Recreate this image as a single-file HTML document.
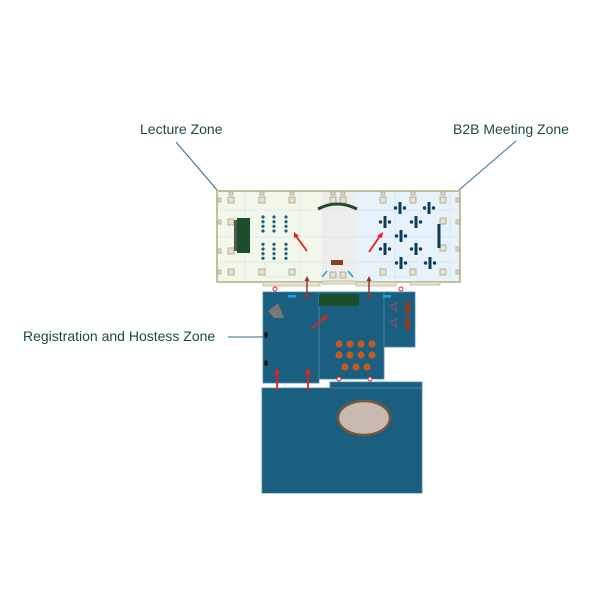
<!DOCTYPE html>
<html><head><meta charset="utf-8"><style>
html,body{margin:0;padding:0;background:#fff;}
svg{display:block;}
text{font-family:"Liberation Sans",sans-serif;}
</style></head><body>
<svg width="600" height="600" viewBox="0 0 600 600" xmlns="http://www.w3.org/2000/svg">
<rect width="600" height="600" fill="#fff"/>

<!-- labels -->
<text x="140" y="134" font-size="14" fill="#1f4b3c">Lecture Zone</text>
<text x="453" y="134" font-size="14" fill="#1f4b3c">B2B Meeting Zone</text>
<text x="23" y="341" font-size="14" fill="#1f4b3c">Registration and Hostess Zone</text>
<line x1="176" y1="142" x2="217" y2="190" stroke="#2f6f8f" stroke-width="1"/>
<line x1="516" y1="141" x2="459" y2="190" stroke="#2f6f8f" stroke-width="1"/>
<line x1="228" y1="337" x2="264" y2="337" stroke="#2f6f8f" stroke-width="1"/>

<!-- top floor plan -->
<rect x="217" y="191" width="105" height="91" fill="#f2f7ea"/>
<rect x="322" y="191" width="34" height="91" fill="#ededed"/>
<rect x="356" y="191" width="104" height="91" fill="#e7f2fb"/>
<!-- faint dimension lines -->
<g stroke="#cfe0ec" stroke-width="0.5" fill="none">
<line x1="217" y1="210" x2="460" y2="210"/>
<line x1="217" y1="237" x2="460" y2="237"/>
<line x1="217" y1="262" x2="460" y2="262"/>
<line x1="245" y1="191" x2="245" y2="282"/>
<line x1="300" y1="191" x2="300" y2="282"/>
<line x1="395" y1="191" x2="395" y2="282"/>
<line x1="450" y1="191" x2="450" y2="282"/>
<rect x="265" y="262" width="30" height="15"/>
<rect x="380" y="262" width="30" height="15"/>
</g>
<!-- outline -->
<rect x="217" y="191" width="243" height="91" fill="none" stroke="#c3bf9c" stroke-width="2"/>
<!-- bottom bumps -->
<g fill="#e6e2cc" stroke="#bfbb98" stroke-width="0.8">
<rect x="263" y="282" width="57" height="4"/>
<rect x="356" y="282" width="40" height="4"/>
<rect x="410" y="282" width="30" height="3"/>
<rect x="322" y="281" width="34" height="3"/>
</g>
<!-- pillars -->
<g fill="#e4e0cc" stroke="#a9a589" stroke-width="0.8">
<rect x="228" y="197" width="6" height="6"/><rect x="259" y="197" width="6" height="6"/><rect x="289" y="197" width="6" height="6"/>
<rect x="330" y="197" width="6" height="6"/><rect x="340" y="197" width="6" height="6"/>
<rect x="380" y="197" width="6" height="6"/><rect x="410" y="197" width="6" height="6"/><rect x="440" y="197" width="6" height="6"/>
<rect x="228" y="219" width="6" height="6"/><rect x="228" y="248" width="6" height="6"/>
<rect x="440" y="218" width="6" height="6"/><rect x="440" y="245" width="6" height="6"/>
<rect x="228" y="269" width="6" height="6"/><rect x="259" y="269" width="6" height="6"/><rect x="289" y="269" width="6" height="6"/>
<rect x="330" y="272" width="6" height="6"/><rect x="340" y="272" width="6" height="6"/>
<rect x="380" y="269" width="6" height="6"/><rect x="410" y="269" width="6" height="6"/><rect x="440" y="269" width="6" height="6"/>
<!-- edge markers -->
<rect x="218" y="198" width="3" height="4"/><rect x="218" y="220" width="3" height="4"/><rect x="218" y="249" width="3" height="4"/><rect x="218" y="270" width="3" height="4"/>
<rect x="456" y="198" width="3" height="4"/><rect x="456" y="220" width="3" height="4"/><rect x="456" y="247" width="3" height="4"/><rect x="456" y="270" width="3" height="4"/>
<rect x="229" y="192" width="4" height="3"/><rect x="260" y="192" width="4" height="3"/><rect x="290" y="192" width="4" height="3"/><rect x="331" y="192" width="4" height="3"/><rect x="341" y="192" width="4" height="3"/><rect x="381" y="192" width="4" height="3"/><rect x="411" y="192" width="4" height="3"/><rect x="441" y="192" width="4" height="3"/>
</g>

<!-- lecture zone contents -->
<rect x="234" y="220" width="3" height="31" fill="#555"/>
<rect x="237" y="218" width="13" height="35" fill="#1e4d2b"/>
<g fill="#1a5f80">
<circle cx="263" cy="217" r="1.6"/><circle cx="263" cy="221.7" r="1.6"/><circle cx="263" cy="226.3" r="1.6"/><circle cx="263" cy="231" r="1.6"/>
<circle cx="274" cy="217" r="1.6"/><circle cx="274" cy="221.7" r="1.6"/><circle cx="274" cy="226.3" r="1.6"/><circle cx="274" cy="231" r="1.6"/>
<circle cx="286" cy="217" r="1.6"/><circle cx="286" cy="221.7" r="1.6"/><circle cx="286" cy="226.3" r="1.6"/><circle cx="286" cy="231" r="1.6"/>
<circle cx="263" cy="244.3" r="1.6"/><circle cx="263" cy="249" r="1.6"/><circle cx="263" cy="253.7" r="1.6"/><circle cx="263" cy="258.3" r="1.6"/>
<circle cx="274" cy="244.3" r="1.6"/><circle cx="274" cy="249" r="1.6"/><circle cx="274" cy="253.7" r="1.6"/><circle cx="274" cy="258.3" r="1.6"/>
<circle cx="286" cy="244.3" r="1.6"/><circle cx="286" cy="249" r="1.6"/><circle cx="286" cy="253.7" r="1.6"/><circle cx="286" cy="258.3" r="1.6"/>
</g>

<!-- red arrows in top plan -->
<g stroke="#ee1c1c" stroke-width="1.8" fill="#ee1c1c">
<line x1="307" y1="251" x2="296" y2="236"/>
<polygon points="294,232 299,236 294,238" stroke="none"/>
<line x1="369" y1="252" x2="380" y2="236"/>
<polygon points="383,232 382,238 377,236" stroke="none"/>
</g>

<!-- middle zone -->
<path d="M318,209 Q337,199 357,209" fill="none" stroke="#1e4d2b" stroke-width="3"/>
<rect x="331" y="260" width="12" height="5" fill="#8a3f1a"/>
<line x1="322" y1="277" x2="327" y2="271" stroke="#1aa6e0" stroke-width="1.6"/>
<line x1="348" y1="271" x2="353" y2="277" stroke="#1aa6e0" stroke-width="1.6"/>

<!-- B2B crosses -->
<g fill="#0e3d5a">
<g transform="translate(400,208)"><rect x="-1.5" y="-6" width="3" height="12"/><circle cx="-4.5" cy="0" r="1.7"/><circle cx="4.5" cy="0" r="1.7"/></g>
<g transform="translate(429,208)"><rect x="-1.5" y="-6" width="3" height="12"/><circle cx="-4.5" cy="0" r="1.7"/><circle cx="4.5" cy="0" r="1.7"/></g>
<g transform="translate(385,222)"><rect x="-1.5" y="-6" width="3" height="12"/><circle cx="-4.5" cy="0" r="1.7"/><circle cx="4.5" cy="0" r="1.7"/></g>
<g transform="translate(416,222)"><rect x="-1.5" y="-6" width="3" height="12"/><circle cx="-4.5" cy="0" r="1.7"/><circle cx="4.5" cy="0" r="1.7"/></g>
<g transform="translate(401,236)"><rect x="-1.5" y="-6" width="3" height="12"/><circle cx="-4.5" cy="0" r="1.7"/><circle cx="4.5" cy="0" r="1.7"/></g>
<g transform="translate(385,249)"><rect x="-1.5" y="-6" width="3" height="12"/><circle cx="-4.5" cy="0" r="1.7"/><circle cx="4.5" cy="0" r="1.7"/></g>
<g transform="translate(416,249)"><rect x="-1.5" y="-6" width="3" height="12"/><circle cx="-4.5" cy="0" r="1.7"/><circle cx="4.5" cy="0" r="1.7"/></g>
<g transform="translate(401,263)"><rect x="-1.5" y="-6" width="3" height="12"/><circle cx="-4.5" cy="0" r="1.7"/><circle cx="4.5" cy="0" r="1.7"/></g>
<g transform="translate(430,263)"><rect x="-1.5" y="-6" width="3" height="12"/><circle cx="-4.5" cy="0" r="1.7"/><circle cx="4.5" cy="0" r="1.7"/></g>
<rect x="437.5" y="224" width="3" height="24"/>
</g>

<!-- blue registration area -->
<g fill="#1a5f80" stroke="#4a88a6" stroke-width="0.8">
<rect x="263" y="292" width="56" height="91"/>
<rect x="319" y="292" width="65" height="87"/>
<rect x="384" y="292" width="31" height="55"/>
<rect x="330" y="382" width="92" height="7"/>
<rect x="262" y="388" width="160" height="105"/>
</g>
<rect x="263" y="389" width="158" height="104" fill="#1a5f80"/>
<!-- in blue details -->
<rect x="319" y="294" width="40" height="12" fill="#1e4d2b"/>
<polygon points="268,311 278,303 284,318 274,318" fill="#777"/>
<rect x="288" y="295" width="8" height="2.5" fill="#1aa6e0"/>
<rect x="383" y="295" width="8" height="2.5" fill="#1aa6e0"/>
<ellipse cx="266" cy="335" rx="1.8" ry="3" fill="#111"/>
<ellipse cx="266" cy="363" rx="1.8" ry="3" fill="#111"/>
<rect x="405" y="302" width="5" height="12" fill="#8a4020"/>
<rect x="405" y="318" width="5" height="12" fill="#8a4020"/>
<g fill="none" stroke="#b04a50" stroke-width="0.8">
<path d="M391,306 l5,-3 l0,8 z"/>
<path d="M391,322 l5,-3 l0,8 z"/>
</g>
<g fill="#c55a20">
<circle cx="339" cy="344" r="3.6"/><circle cx="350" cy="344" r="3.6"/><circle cx="361" cy="344" r="3.6"/><circle cx="372" cy="344" r="3.6"/>
<circle cx="339" cy="355" r="3.6"/><circle cx="350" cy="355" r="3.6"/><circle cx="361" cy="355" r="3.6"/><circle cx="372" cy="355" r="3.6"/>
<circle cx="345" cy="367" r="3.6"/><circle cx="356" cy="367" r="3.6"/><circle cx="367" cy="367" r="3.6"/>
</g>
<!-- red arrows in blue area -->
<g stroke="#ee1c1c" stroke-width="1.8" fill="#ee1c1c">
<line x1="311" y1="329" x2="324" y2="318"/>
<polygon points="328,315 326,321 322,317" stroke="none"/>
<line x1="277" y1="390" x2="277" y2="373"/>
<polygon points="277,368 280,374 274,374" stroke="none"/>
<line x1="308" y1="390" x2="308" y2="373"/>
<polygon points="308,368 311,374 305,374" stroke="none"/>
</g>
<!-- maroon connectors -->
<g stroke="#a0303c" stroke-width="1.5" fill="none">
<line x1="307" y1="279" x2="307" y2="295"/>
<line x1="369" y1="279" x2="369" y2="295"/>
<circle cx="307" cy="296" r="1.6"/>
<circle cx="369" cy="296" r="1.6"/>
</g>
<g fill="#a0303c">
<polygon points="307,276 309.5,281 304.5,281"/>
<polygon points="369,276 371.5,281 366.5,281"/>
</g>
<!-- red small circles -->
<g fill="#fff" stroke="#e8202a" stroke-width="1">
<circle cx="275" cy="289" r="2"/><circle cx="401" cy="289" r="2"/>
<circle cx="339" cy="379" r="2"/><circle cx="370" cy="379" r="2"/>
</g>
<!-- ellipse -->
<ellipse cx="364" cy="418" rx="26" ry="17" fill="#c8bab1" stroke="#7a5638" stroke-width="2.5"/>
</svg>
</body></html>
